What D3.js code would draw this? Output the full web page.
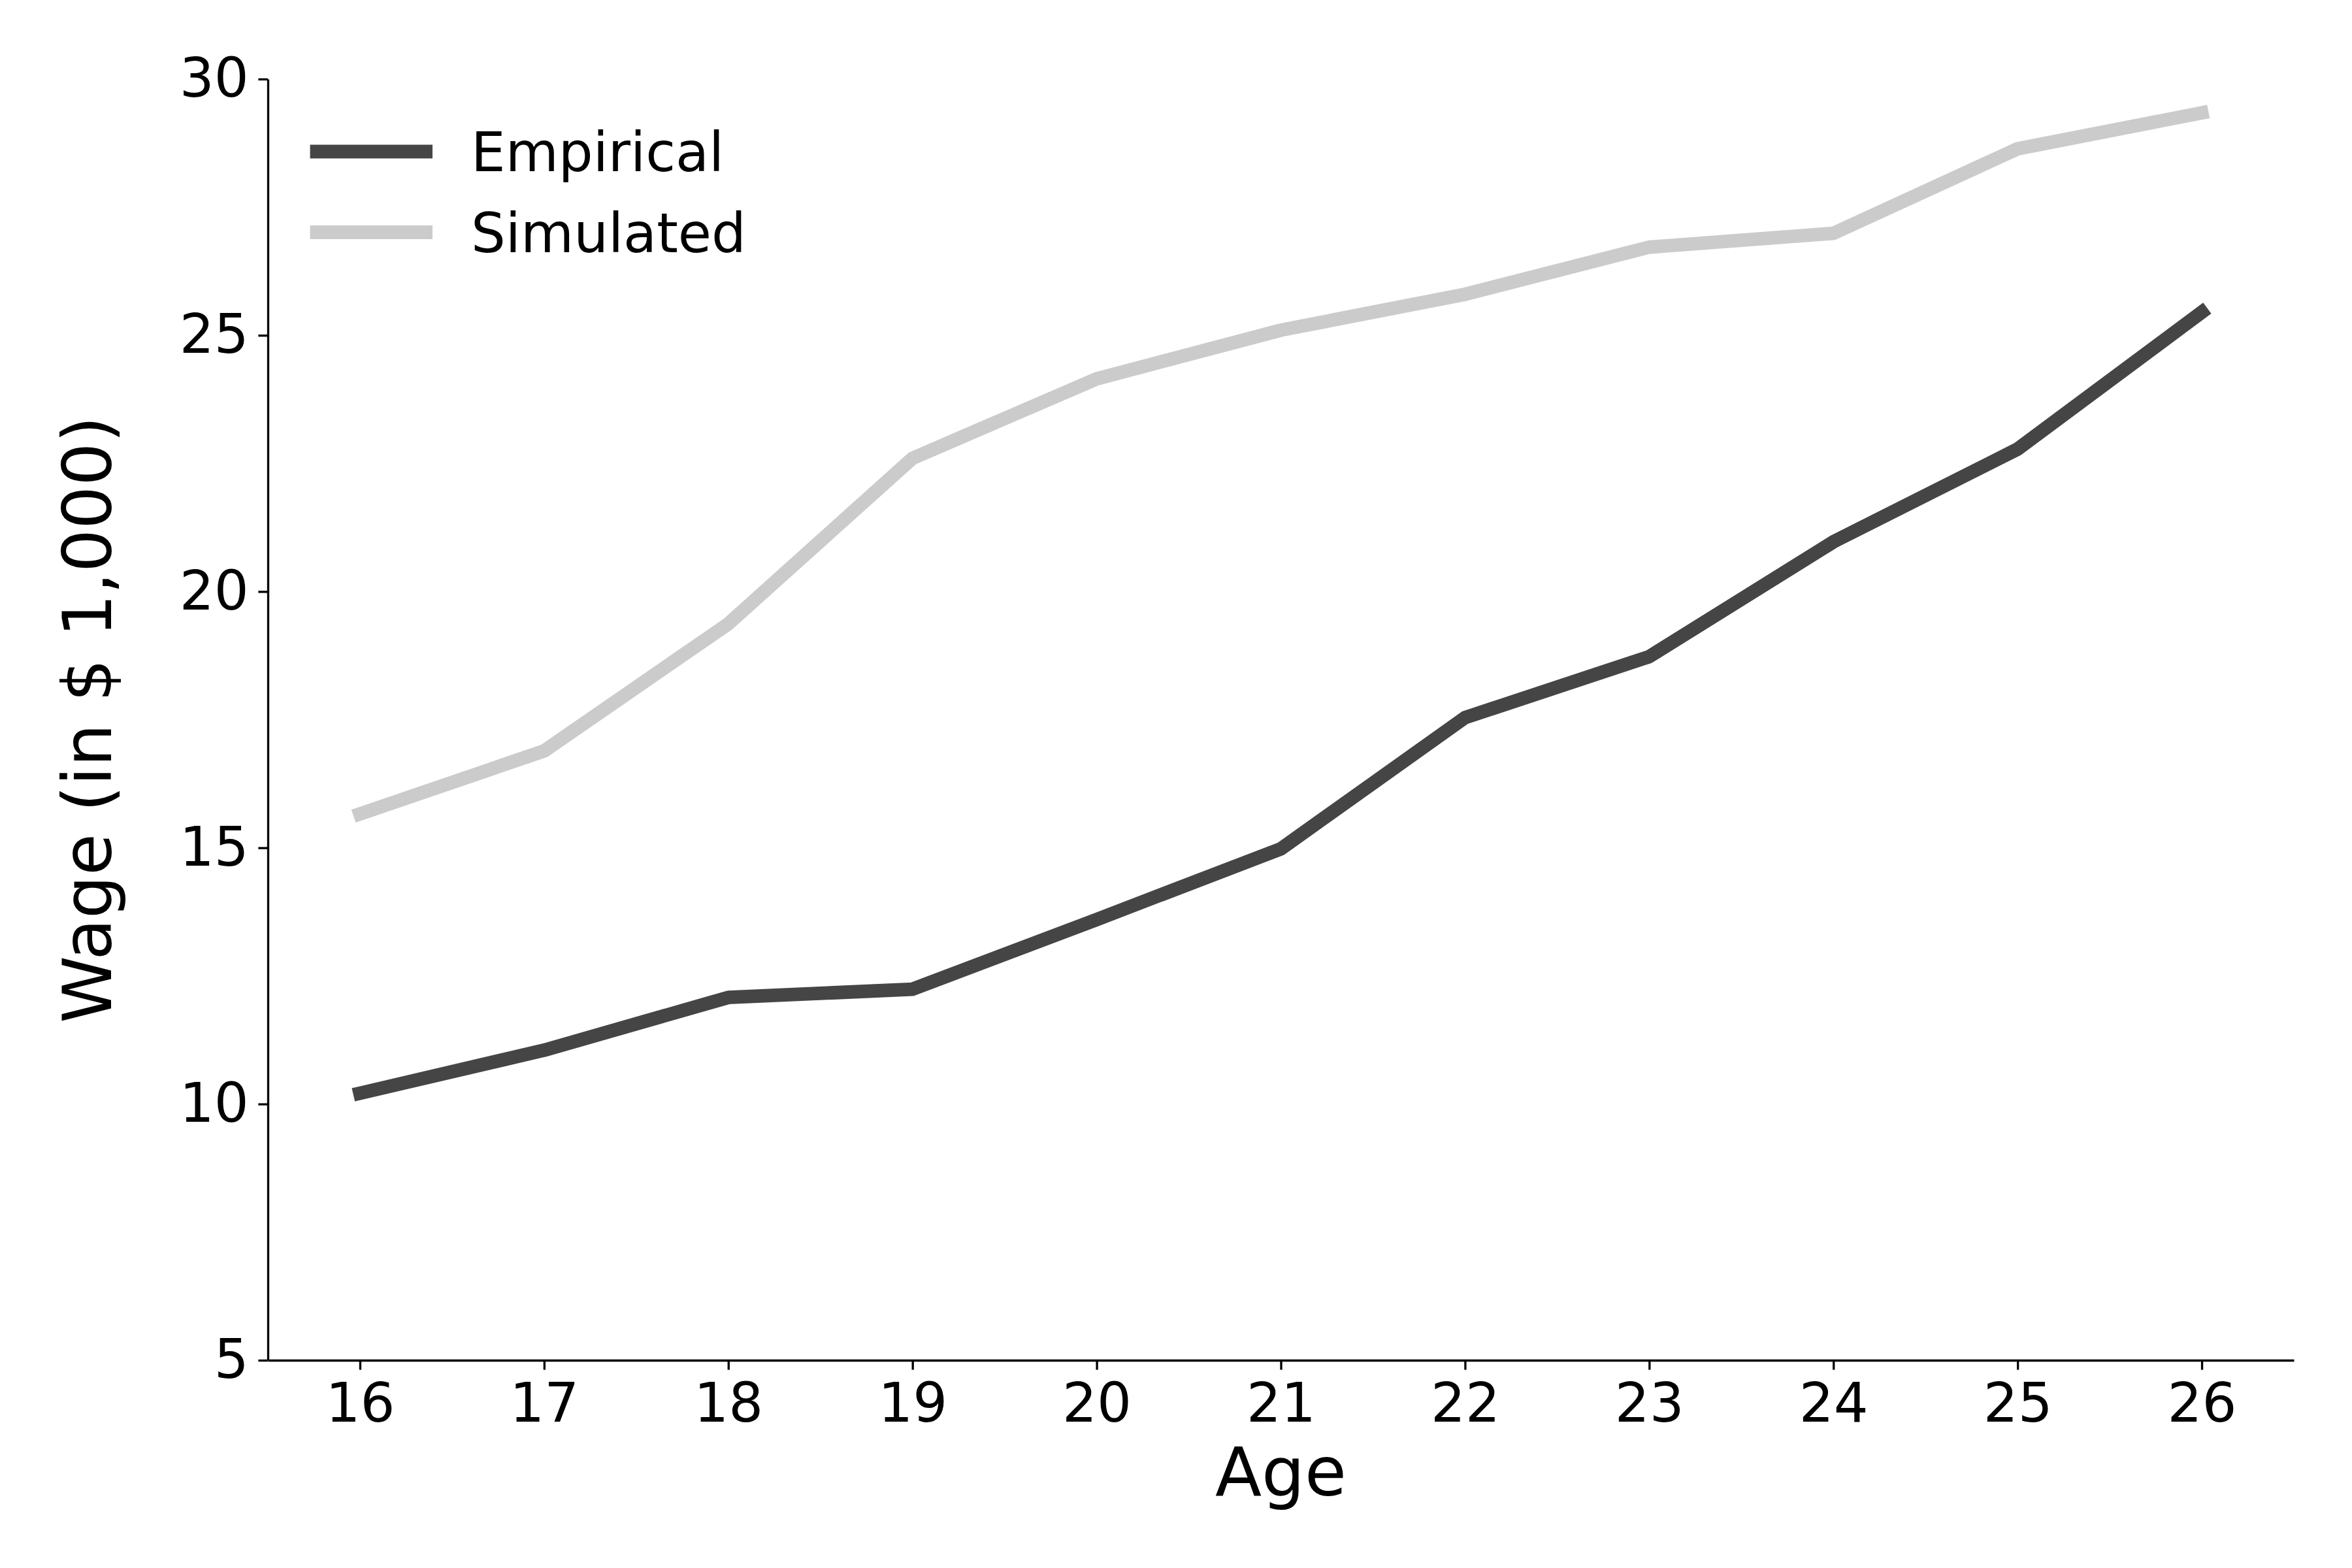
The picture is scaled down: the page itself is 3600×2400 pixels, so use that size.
<!DOCTYPE html>
<html>
<head>
<meta charset="utf-8">
<script src="https://cdnjs.cloudflare.com/ajax/libs/d3/7.8.5/d3.min.js"></script>
<style>
  body { margin: 0; background: #ffffff; }
  text { font-family: "DejaVu Sans", sans-serif; fill: #000000; }
</style>
</head>
<body>
<div id="chart"></div>
<script>
// data
var ages = [16, 17, 18, 19, 20, 21, 22, 23, 24, 25, 26];
var empirical = [10.21, 11.05, 12.08, 12.24, 13.6, 14.98, 17.54, 18.73, 20.97, 22.78, 25.45];
var simulated = [15.66, 16.89, 19.37, 22.6, 24.15, 25.1, 25.8, 26.72, 26.99, 28.64, 29.34];
var yTicks = [5, 10, 15, 20, 25, 30];
var seriesNames = ["Empirical", "Simulated"];
var seriesColors = ["#454545", "#cbcbcb"];

// svg container
var svgWidth = 3600;
var svgHeight = 2400;

// plot area (matplotlib-like axes box)
var margin = { top: 121, right: 89, bottom: 318, left: 410 };
var chartWidth = svgWidth - margin.left - margin.right;
var chartHeight = svgHeight - margin.top - margin.bottom;

var tickFont = 83.3;   // 20pt at 300 dpi
var labelFont = 104;   // 25pt
var tickLen = 14.6;
var spineW = 3.33;

var svg = d3.select("#chart").append("svg")
  .attr("width", svgWidth)
  .attr("height", svgHeight);

svg.append("rect")
  .attr("width", svgWidth)
  .attr("height", svgHeight)
  .attr("fill", "#ffffff");

var chartGroup = svg.append("g")
  .attr("transform", `translate(${margin.left}, ${margin.top})`);

// scales, x padded by half a year like matplotlib margins
var x = d3.scaleLinear()
  .domain([15.5, 26.5])
  .range([0, chartWidth]);

var y = d3.scaleLinear()
  .domain([5, 30])
  .range([chartHeight, 0]);

// lines
var series = [
  { name: seriesNames[0], values: empirical, color: seriesColors[0] },
  { name: seriesNames[1], values: simulated, color: seriesColors[1] }
];

var line = d3.line()
  .x(function(d, i) { return x(ages[i]); })
  .y(function(d) { return y(d); });

// simulated drawn after empirical, same as the original order
chartGroup.selectAll(".series")
  .data(series)
  .enter()
  .append("path")
  .attr("class", "series")
  .attr("d", function(d) { return line(d.values); })
  .attr("fill", "none")
  .attr("stroke", function(d) { return d.color; })
  .attr("stroke-width", 20.8)
  .attr("stroke-linecap", "square")
  .attr("stroke-linejoin", "round");

// axes
var bottomAxis = d3.axisBottom(x)
  .tickValues(ages)
  .tickFormat(d3.format("d"))
  .tickSize(tickLen)
  .tickSizeOuter(0)
  .tickPadding(tickLen);

var leftAxis = d3.axisLeft(y)
  .tickValues(yTicks)
  .tickFormat(d3.format("d"))
  .tickSize(tickLen)
  .tickSizeOuter(0)
  .tickPadding(tickLen);

var xAxisG = chartGroup.append("g")
  .attr("transform", `translate(0, ${chartHeight})`)
  .call(bottomAxis);

var yAxisG = chartGroup.append("g").call(leftAxis);

[xAxisG, yAxisG].forEach(function(g) {
  g.select(".domain").attr("stroke", "#000").attr("stroke-width", spineW);
  g.selectAll(".tick line").attr("stroke", "#000").attr("stroke-width", spineW);
  g.selectAll(".tick text")
    .attr("font-family", "DejaVu Sans, sans-serif")
    .attr("font-size", tickFont)
    .attr("fill", "#000");
});
xAxisG.selectAll(".tick text").attr("dy", "0.78em");

// axis labels
chartGroup.append("text")
  .attr("x", chartWidth / 2)
  .attr("y", 2289 - margin.top)
  .attr("text-anchor", "middle")
  .attr("font-size", labelFont)
  .text("Age");

chartGroup.append("text")
  .attr("transform", "rotate(-90)")
  .attr("x", -chartHeight / 2)
  .attr("y", 170 - margin.left)
  .attr("text-anchor", "middle")
  .attr("font-size", labelFont)
  .text("Wage (in $ 1,000)");

// legend, no frame
var legend = chartGroup.append("g")
  .attr("transform", "translate(75, 111)");

var legendItems = legend.selectAll(".legend-item")
  .data(series)
  .enter()
  .append("g")
  .attr("class", "legend-item")
  .attr("transform", function(d, i) { return `translate(0, ${i * 123.5})`; });

legendItems.append("line")
  .attr("x1", 0)
  .attr("x2", 166.6)
  .attr("y1", 0)
  .attr("y2", 0)
  .attr("stroke", function(d) { return d.color; })
  .attr("stroke-width", 20.8)
  .attr("stroke-linecap", "square");

legendItems.append("text")
  .attr("x", 236)
  .attr("y", 30)
  .attr("font-size", tickFont)
  .text(function(d) { return d.name; });
</script>
</body>
</html>
